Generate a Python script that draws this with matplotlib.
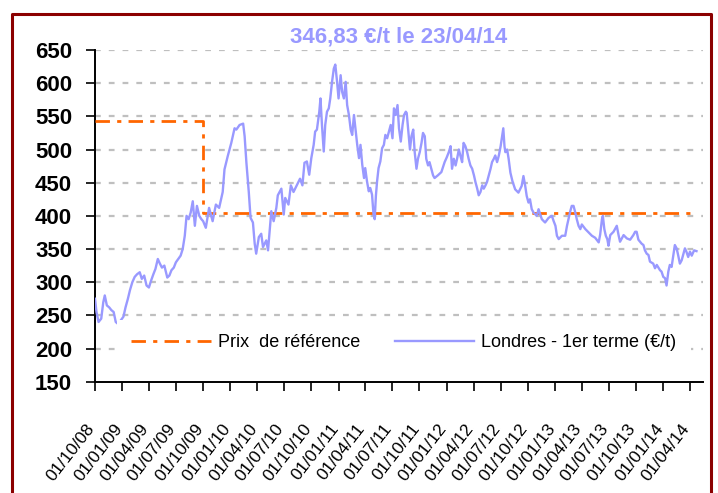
import matplotlib
matplotlib.use("Agg")
import matplotlib.pyplot as plt
import matplotlib.transforms as mtransforms
from matplotlib.lines import Line2D
from datetime import datetime

plt.rcParams['font.family'] = ['Liberation Sans', 'DejaVu Sans']

# ---------------- data ----------------
price_dates = [
    "2008-10-01", "2008-10-06", "2008-10-13", "2008-10-22", "2008-10-29", "2008-11-03",
    "2008-11-10", "2008-11-18", "2008-11-25", "2008-12-03", "2008-12-10", "2008-12-18",
    "2008-12-26", "2009-01-05", "2009-01-12", "2009-01-20", "2009-01-27", "2009-02-04",
    "2009-02-12", "2009-02-20", "2009-03-01", "2009-03-08", "2009-03-16", "2009-03-24",
    "2009-04-01", "2009-04-08", "2009-04-16", "2009-04-23", "2009-05-01", "2009-05-08",
    "2009-05-15", "2009-05-23", "2009-06-02", "2009-06-09", "2009-06-16", "2009-06-24",
    "2009-07-01", "2009-07-09", "2009-07-17", "2009-07-24", "2009-07-31", "2009-08-06",
    "2009-08-13", "2009-08-20", "2009-08-27", "2009-09-03", "2009-09-10", "2009-09-18",
    "2009-09-25", "2009-10-01", "2009-10-10", "2009-10-21", "2009-11-02", "2009-11-13",
    "2009-11-24", "2009-12-06", "2009-12-12", "2009-12-23", "2010-01-04", "2010-01-15",
    "2010-01-21", "2010-02-01", "2010-02-13", "2010-02-18", "2010-02-24", "2010-03-04",
    "2010-03-10", "2010-03-18", "2010-03-24", "2010-03-29", "2010-04-07", "2010-04-15",
    "2010-04-21", "2010-05-02", "2010-05-08", "2010-05-19", "2010-05-27", "2010-06-05",
    "2010-06-10", "2010-06-22", "2010-06-30", "2010-07-05", "2010-07-16", "2010-07-24",
    "2010-08-02", "2010-08-13", "2010-08-24", "2010-09-01", "2010-09-08", "2010-09-16",
    "2010-09-24", "2010-10-01", "2010-10-09", "2010-10-14", "2010-10-20", "2010-10-28",
    "2010-11-01", "2010-11-06", "2010-11-12", "2010-11-17", "2010-11-23", "2010-11-29",
    "2010-12-04", "2010-12-10", "2010-12-16", "2010-12-21", "2010-12-27", "2011-01-01",
    "2011-01-08", "2011-01-13", "2011-01-19", "2011-01-25", "2011-01-30", "2011-02-05",
    "2011-02-11", "2011-02-16", "2011-02-22", "2011-02-28", "2011-03-05", "2011-03-11",
    "2011-03-16", "2011-03-22", "2011-03-28", "2011-04-01", "2011-04-07", "2011-04-13",
    "2011-04-18", "2011-04-24", "2011-04-29", "2011-05-03", "2011-05-07", "2011-05-11",
    "2011-05-16", "2011-05-22", "2011-05-28", "2011-06-03", "2011-06-08", "2011-06-14",
    "2011-06-20", "2011-06-26", "2011-07-02", "2011-07-07", "2011-07-13", "2011-07-19",
    "2011-07-24", "2011-07-30", "2011-08-05", "2011-08-10", "2011-08-16", "2011-08-19",
    "2011-08-24", "2011-08-30", "2011-09-04", "2011-09-10", "2011-09-15", "2011-09-21",
    "2011-09-26", "2011-10-02", "2011-10-08", "2011-10-13", "2011-10-19", "2011-10-24",
    "2011-10-30", "2011-11-04", "2011-11-10", "2011-11-16", "2011-11-21", "2011-12-02",
    "2011-12-14", "2011-12-25", "2012-01-01", "2012-01-08", "2012-01-14", "2012-01-19",
    "2012-01-25", "2012-01-31", "2012-02-05", "2012-02-11", "2012-02-16", "2012-02-22",
    "2012-02-27", "2012-03-04", "2012-03-10", "2012-03-15", "2012-03-21", "2012-03-27",
    "2012-04-02", "2012-04-07", "2012-04-13", "2012-04-18", "2012-04-24", "2012-04-30",
    "2012-05-05", "2012-05-11", "2012-05-16", "2012-05-22", "2012-05-28", "2012-06-02",
    "2012-06-08", "2012-06-13", "2012-06-19", "2012-06-25", "2012-07-01", "2012-07-06",
    "2012-07-10", "2012-07-14", "2012-07-17", "2012-07-23", "2012-07-28", "2012-08-03",
    "2012-08-10", "2012-08-19", "2012-08-30", "2012-09-10", "2012-09-16", "2012-09-22",
    "2012-09-27", "2012-10-03", "2012-10-08", "2012-10-14", "2012-10-20", "2012-10-31",
    "2012-11-06", "2012-11-17", "2012-11-28", "2012-12-10", "2012-12-21", "2012-12-27",
    "2013-01-02", "2013-01-07", "2013-01-13", "2013-01-24", "2013-02-04", "2013-02-10",
    "2013-02-15", "2013-02-21", "2013-02-26", "2013-03-04", "2013-03-10", "2013-03-15",
    "2013-03-21", "2013-03-27", "2013-04-01", "2013-04-13", "2013-04-24", "2013-05-05",
    "2013-05-16", "2013-05-28", "2013-06-02", "2013-06-08", "2013-06-11", "2013-06-16",
    "2013-06-21", "2013-06-26", "2013-06-30", "2013-07-06", "2013-07-17", "2013-07-28",
    "2013-08-03", "2013-08-08", "2013-08-20", "2013-08-31", "2013-09-11", "2013-09-22",
    "2013-09-28", "2013-10-03", "2013-10-09", "2013-10-20", "2013-10-26", "2013-10-31",
    "2013-11-06", "2013-11-12", "2013-11-17", "2013-11-28", "2013-12-04", "2013-12-10",
    "2013-12-21", "2013-12-26", "2014-01-01", "2014-01-07", "2014-01-12", "2014-01-18",
    "2014-01-23", "2014-01-29", "2014-02-04", "2014-02-09", "2014-02-15", "2014-02-20",
    "2014-02-26", "2014-03-04", "2014-03-09", "2014-03-15", "2014-03-20", "2014-03-26",
    "2014-04-01", "2014-04-07", "2014-04-15", "2014-04-23",
]
price_values = [
    275, 255, 240, 245, 270, 280,
    265, 262, 258, 255, 240, 237,
    242, 248, 262, 275, 288, 300,
    308, 312, 315, 305, 310, 295,
    292, 302, 312, 320, 335, 328,
    322, 325, 307, 310, 318, 322,
    330, 335, 340, 350, 370, 400,
    395, 405, 422, 385, 415, 400,
    395, 392, 382, 412, 392, 417,
    412, 436, 470, 490, 510, 532,
    530, 537, 539, 520, 480, 436,
    397, 390, 358, 343, 368, 373,
    353, 363, 348, 407, 392, 412,
    431, 441, 402, 427, 417, 446,
    436, 446, 456, 446, 480, 482,
    462, 487, 507, 527, 530, 557,
    577, 537, 497, 537, 557, 562,
    577, 602, 622, 628, 602, 577,
    612, 587, 577, 602, 567, 552,
    530, 522, 552, 527, 507, 487,
    507, 477, 457, 472, 452, 437,
    442, 432, 402, 395, 430, 452,
    472, 482, 502, 507, 522, 517,
    527, 537, 517, 562, 552, 567,
    532, 512, 537, 552, 557, 555,
    530, 500, 520, 530, 496, 471,
    486, 496, 510, 525, 520, 486,
    476, 481, 471, 461, 457, 461,
    466, 481, 488, 496, 505, 471,
    486, 476, 486, 500, 491, 481,
    510, 505, 496, 486, 476, 471,
    461, 451, 441, 431, 436, 446,
    441, 446, 451, 461, 471, 481,
    486, 491, 481, 491, 505, 520,
    532, 505, 496, 500, 486, 465,
    452, 440, 435, 445, 460, 445,
    430, 420, 425, 410, 405, 400,
    410, 395, 390, 397, 400, 392,
    385, 370, 365, 370, 370, 385,
    395, 407, 415, 415, 405, 395,
    385, 380, 387, 380, 375, 370,
    367, 360, 372, 395, 400, 380,
    370, 365, 355, 371, 376, 385,
    371, 361, 371, 366, 364, 371,
    376, 376, 364, 358, 356, 348,
    343, 341, 331, 328, 321, 326,
    318, 316, 308, 306, 295, 316,
    326, 323, 341, 356, 351, 341,
    328, 333, 341, 351, 346, 338,
    346, 340, 348, 346.83,
]

ref_dates = ["2008-10-01", "2009-10-01", "2009-10-01", "2014-04-23"]
ref_values = [543, 543, 405, 405]

x_tick_labels = [
    "01/10/08", "01/01/09", "01/04/09", "01/07/09", "01/10/09", "01/01/10",
    "01/04/10", "01/07/10", "01/10/10", "01/01/11", "01/04/11", "01/07/11",
    "01/10/11", "01/01/12", "01/04/12", "01/07/12", "01/10/12", "01/01/13",
    "01/04/13", "01/07/13", "01/10/13", "01/01/14", "01/04/14",
]
y_ticks = [150, 200, 250, 300, 350, 400, 450, 500, 550, 600, 650]

title_text = "346,83 €/t le 23/04/14"
label_ref = "Prix  de référence"
label_price = "Londres - 1er terme (€/t)"

# ---------------- styles ----------------
PURPLE = "#9999FF"
ORANGE = "#FF6600"
GRID = "#BFBFBF"
FRAME = "#8B0000"

W, H = 718, 493
fig = plt.figure(figsize=(W / 100, H / 100), dpi=100)
fig.patch.set_facecolor("white")

ax_left, ax_right, ax_top, ax_bottom = 95, 703, 50, 381.7
ax = fig.add_axes([ax_left / W, 1 - ax_bottom / H, (ax_right - ax_left) / W, (ax_bottom - ax_top) / H])

pd_dates = [datetime.strptime(d, "%Y-%m-%d") for d in price_dates]
rd = [datetime.strptime(d, "%Y-%m-%d") for d in ref_dates]
tick_dates = [datetime.strptime(s, "%d/%m/%y") for s in x_tick_labels]

ax.plot(rd, ref_values, color=ORANGE, lw=2.0, dashes=(5.2, 2.6, 1.5, 2.6), zorder=3,
        solid_capstyle="butt", dash_capstyle="butt")
ax.plot(pd_dates, price_values, color=PURPLE, lw=1.7, zorder=4)

ax.set_xlim(datetime(2008, 10, 1), datetime(2014, 5, 15))
ax.set_ylim(150, 650)
ax.set_yticks(y_ticks)
ax.set_xticks(tick_dates)
ax.set_xticklabels(x_tick_labels)

for v in y_ticks[1:]:
    ax.axhline(v, color=GRID, lw=1.6, dashes=(2.6, 3.6), zorder=1)

for s in ["top", "right"]:
    ax.spines[s].set_visible(False)
for s in ["left", "bottom"]:
    ax.spines[s].set_linewidth(1.4)
    ax.spines[s].set_color("black")

ax.tick_params(axis="both", direction="out", length=6.5, width=1.2, color="black")
ax.tick_params(axis="y", pad=10, labelsize=16)
ax.tick_params(axis="x", pad=25, labelsize=12.5)
for lab in ax.get_yticklabels():
    lab.set_fontweight("bold")
shift = mtransforms.ScaledTranslation(-3 / 100, 0, fig.dpi_scale_trans)
for lab in ax.get_xticklabels():
    lab.set_rotation(52)
    lab.set_ha("right")
    lab.set_va("center")
    lab.set_rotation_mode("anchor")
    lab.set_transform(lab.get_transform() + shift)

h1 = Line2D([], [], color=ORANGE, lw=2.0, dashes=(5.2, 2.6, 1.5, 2.6))
h2 = Line2D([], [], color=PURPLE, lw=1.7)
leg = ax.legend([h1, h2], [label_ref, label_price], ncol=2, loc="center",
                bbox_to_anchor=(0.508, 0.117), fontsize=13, frameon=True,
                facecolor="white", edgecolor="none", framealpha=1, fancybox=False,
                handlelength=4.4, handletextpad=0.4, columnspacing=1.9, borderpad=0.8)
leg.set_zorder(6)

fig.text(399 / W, 1 - 37 / H, title_text, ha="center", va="center", fontsize=16,
         fontweight="bold", color=PURPLE)

fig.add_artist(Line2D([12 / W, 12 / W, 711 / W, 711 / W], [-0.05, 1 - 14 / H, 1 - 14 / H, -0.05],
                      transform=fig.transFigure, color=FRAME, lw=2.2))

fig.savefig("out.png", dpi=100, facecolor="white")
